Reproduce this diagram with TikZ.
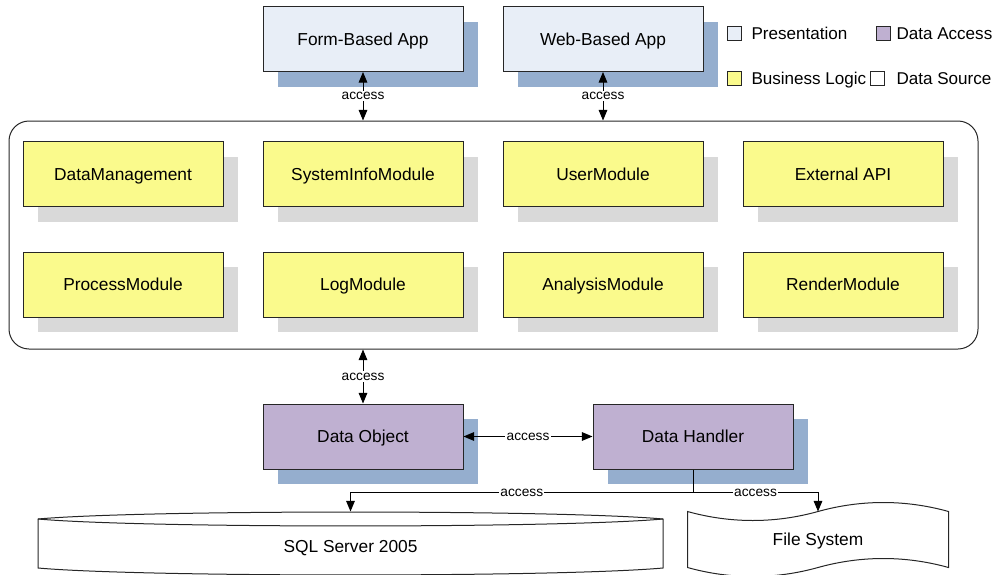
\documentclass[tikz,border=0pt]{standalone}
\usepackage{fontspec}
\setmainfont{Liberation Sans}
\usetikzlibrary{arrows.meta,shadows}
\definecolor{presfill}{HTML}{E8EEF7}
\definecolor{presshadow}{HTML}{95AECE}
\definecolor{logicfill}{HTML}{FAFA8C}
\definecolor{logicshadow}{HTML}{D9D9D9}
\definecolor{accessfill}{HTML}{BFB0D1}
\definecolor{linegray}{HTML}{262626}
\tikzset{
  modbox/.style = {
    draw=linegray, line width=0.75pt,
    minimum width=150pt, minimum height=48.75pt, inner sep=0pt,
    text height=9.3pt, text depth=0pt,
    font=\fontsize{13}{15}\selectfont
  },
  presbox/.style = {modbox, fill=presfill,
    drop shadow={shadow xshift=11.25pt, shadow yshift=-11.25pt, fill=presshadow, opacity=1}},
  logicbox/.style = {modbox, fill=logicfill,
    drop shadow={shadow xshift=11.25pt, shadow yshift=-11.25pt, fill=logicshadow, opacity=1}},
  accessbox/.style = {modbox, fill=accessfill,
    drop shadow={shadow xshift=11.25pt, shadow yshift=-11.25pt, fill=presshadow, opacity=1}},
  lbl/.style = {fill=white, inner sep=1pt, font=\fontsize{10.3}{12}\selectfont},
  legsq/.style = {draw=linegray, line width=0.6pt, minimum size=10.5pt, inner sep=0pt},
  legtext/.style = {anchor=west, inner sep=0pt, text height=9.3pt, text depth=0pt,
    font=\fontsize{12.8}{15}\selectfont},
  >={Triangle[length=8pt,width=6.5pt]}
}

\begin{document}
\begin{tikzpicture}[x=0.75pt,y=-0.75pt,line width=0.75pt]
  \useasboundingbox (0,0) rectangle (997,575);
  \node[presbox] (form) at (363,39) {Form-Based App};
  \node[presbox] (web) at (603,39) {Web-Based App};
  \node[draw=linegray, rounded corners=15pt, minimum width=726.75pt, minimum height=171pt] (layer) at (493.5,235) {};
  \foreach \name/\txt [count=\i from 0] in {datamgmt/DataManagement,sysinfo/SystemInfoModule,user/UserModule,extapi/External API} {
    \node[logicbox] (\name) at (123+240*\i,174) {\txt};
  }
  \foreach \name/\txt [count=\i from 0] in {process/ProcessModule,log/LogModule,analysis/AnalysisModule,render/RenderModule} {
    \node[logicbox] (\name) at (123+240*\i,284.5) {\txt};
  }
  \node[accessbox] (dobj) at (363,436.5) {Data Object};
  \node[accessbox] (dhandler) at (693,436.5) {Data Handler};

  \node[legsq, fill=presfill] (legpres) at (734.5,33) {};
  \node[legtext] (legprestxt) at (751,33) {Presentation};
  \node[legsq, fill=accessfill] (legaccess) at (883.5,33) {};
  \node[legtext] (legaccesstxt) at (896,33) {Data Access};
  \node[legsq, fill=logicfill] (leglogic) at (734.5,78) {};
  \node[legtext] (leglogictxt) at (751,78) {Business Logic};
  \node[legsq, fill=white] (legsource) at (877,78) {};
  \node[legtext] (legsourcetxt) at (896,78) {Data Source};

  \draw[linegray] (38,519) .. controls (142,509.7) and (559,509.7) .. (663,519) -- (663,568)
    .. controls (559,577.3) and (142,577.3) .. (38,568) -- cycle;
  \draw[linegray] (38,519) .. controls (142,528.3) and (559,528.3) .. (663,519);
  \node[minimum width=468.75pt, minimum height=51pt, text height=9.3pt, text depth=0pt,
    font=\fontsize{13}{15}\selectfont] (sql) at (350.5,546) {SQL Server 2005};
  \node[minimum width=195pt, minimum height=41.25pt, inner sep=0pt, text height=9.3pt, text depth=0pt,
    font=\fontsize{13}{15}\selectfont] (fs) at (818,539.5) {File System};
  \draw[linegray] (fs.north west) .. controls +(43,12) and +(-43,12) .. (fs.north)
    .. controls +(43,-12) and +(-43,-12) .. (fs.north east) -- (fs.south east)
    .. controls +(-43,-12) and +(43,-12) .. (fs.south)
    .. controls +(-43,12) and +(43,12) .. (fs.south west) -- cycle;

  \draw[<->] (form.south) -- node[lbl] {access} (form.south |- layer.north);
  \draw[<->] (web.south) -- node[lbl] {access} (web.south |- layer.north);
  \draw[<->] (dobj.north |- layer.south) -- node[lbl] {access} (dobj.north);
  \draw[<->] (dobj.east) -- node[lbl] {access} (dhandler.west);
  \path (dhandler.south) ++(0,23) coordinate (split);
  \draw[] (dhandler.south) -- (split);
  \draw[->] (split) -| node[lbl,pos=0.25] {access} (sql.north);
  \draw[->] (split) -| node[lbl,pos=0.25] {access} (fs.north);
\end{tikzpicture}
\end{document}
